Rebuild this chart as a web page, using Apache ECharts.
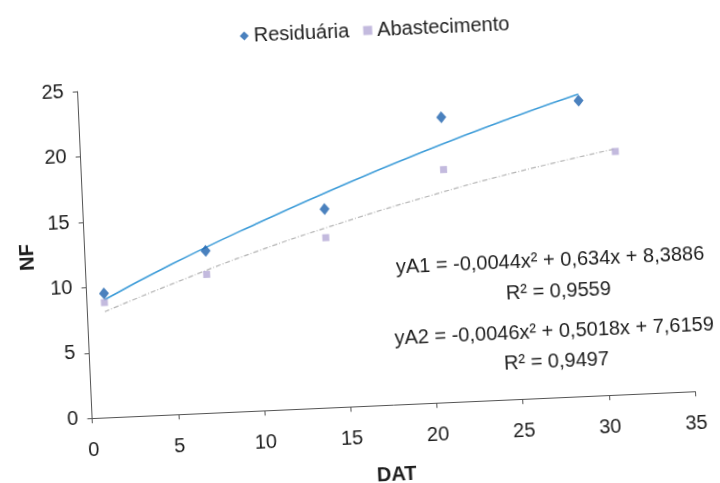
<!DOCTYPE html>
<html>
<head>
<meta charset="utf-8">
<script src="https://cdn.jsdelivr.net/npm/echarts@6/dist/echarts.min.js"></script>
<style>
html,body{margin:0;padding:0;background:#fff;overflow:hidden;}
#chart{width:720px;height:483px;transform:rotate(-2.55deg);transform-origin:360px 241.5px;}
</style>
</head>
<body>
<div id="chart"></div>
<script>
// Observed points
var resX = [1, 7, 14, 21, 29];
var resY = [9.5, 12.4, 15.2, 21.8, 22.6];
var absX = [1, 7, 14, 21, 31];
var absY = [8.8, 10.6, 13.0, 17.8, 18.6];
// Trend line values
var resTrendX = [1, 5, 10, 15, 20, 25, 29];
var resTrendY = [9.0, 11.5, 14.3, 16.9, 19.3, 21.5, 23.1];
var absTrendX = [1, 5, 10, 15, 20, 25, 31];
var absTrendY = [8.1, 10.0, 12.2, 14.1, 15.8, 17.3, 18.8];
// Texts
var eq1 = 'yA1 = -0,0044x² + 0,634x + 8,3886';
var r1 = 'R² = 0,9559';
var eq2 = 'yA2 = -0,0046x² + 0,5018x + 7,6159';
var r2 = 'R² = 0,9497';

function pairs(xs, ys){ return xs.map(function(x,i){ return [x, ys[i]]; }); }

var txt = '#1e1e1e';
var font = 'Liberation Sans, Arial, sans-serif';
var fs = 20;
var chart = echarts.init(document.getElementById('chart'));
chart.setOption({
  backgroundColor: '#fff',
  animation: false,
  textStyle: {fontFamily: font, color: txt},
  legend: {
    data: [{name: 'Residuária', icon: 'diamond'}, {name: 'Abastecimento', icon: 'rect'}],
    left: 244, top: 16,
    itemWidth: 9, itemHeight: 9, itemGap: 14,
    textStyle: {fontSize: fs, color: txt, fontFamily: font}
  },
  grid: {left: 84.7, right: 32, top: 79.2, bottom: 76.8, containLabel: false, outerBoundsMode: 'none'},
  xAxis: {
    type: 'value', min: 0, max: 35, interval: 5,
    name: 'DAT', nameLocation: 'middle', nameGap: 60,
    nameTextStyle: {fontSize: fs, fontWeight: 'bold', color: txt},
    axisLine: {lineStyle: {color: '#555', width: 1}},
    axisTick: {show: true, length: 5, lineStyle: {color: '#555'}},
    axisLabel: {fontSize: fs, color: txt, margin: 22},
    splitLine: {show: false}
  },
  yAxis: {
    type: 'value', min: 0, max: 25, interval: 5,
    name: 'NF', nameLocation: 'middle', nameGap: 46, nameRotate: 90,
    nameTextStyle: {fontSize: fs, fontWeight: 'bold', color: txt},
    axisLine: {show: true, lineStyle: {color: '#555', width: 1}},
    axisTick: {show: true, length: 5, lineStyle: {color: '#555'}},
    axisLabel: {fontSize: fs, color: txt, margin: 14},
    splitLine: {show: false}
  },
  series: [
    {
      name: 'Tendência Residuária', type: 'line', data: pairs(resTrendX, resTrendY),
      smooth: true, showSymbol: false, symbol: 'none',
      lineStyle: {color: '#3b9bd8', width: 1.6}, z: 2, silent: true
    },
    {
      name: 'Tendência Abastecimento', type: 'line', data: pairs(absTrendX, absTrendY),
      smooth: true, showSymbol: false, symbol: 'none',
      lineStyle: {color: '#b5b5b5', width: 1.2, type: [5, 2, 1, 2]}, z: 2, silent: true
    },
    {
      name: 'Residuária', type: 'scatter', data: pairs(resX, resY),
      symbol: 'diamond', symbolSize: [10, 12],
      itemStyle: {color: '#1d62ae'}, z: 5
    },
    {
      name: 'Abastecimento', type: 'scatter', data: pairs(absX, absY),
      symbol: 'rect', symbolSize: 7,
      itemStyle: {color: '#b4a9d6'}, z: 5
    }
  ],
  graphic: [
    {type: 'text', x: 549, y: 269, style: {text: eq1, fontSize: fs, fontFamily: font, fill: txt, align: 'center', verticalAlign: 'middle'}},
    {type: 'text', x: 556, y: 300, style: {text: r1, fontSize: fs, fontFamily: font, fill: txt, align: 'center', verticalAlign: 'middle'}},
    {type: 'text', x: 550, y: 340, style: {text: eq2, fontSize: fs, fontFamily: font, fill: txt, align: 'center', verticalAlign: 'middle'}},
    {type: 'text', x: 551, y: 370, style: {text: r2, fontSize: fs, fontFamily: font, fill: txt, align: 'center', verticalAlign: 'middle'}}
  ]
});
</script>
</body>
</html>
